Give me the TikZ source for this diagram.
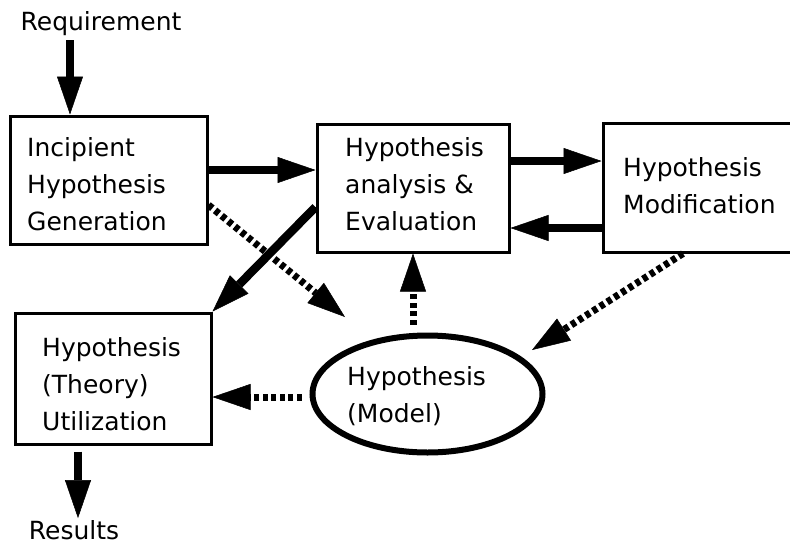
\documentclass[tikz,border=0pt]{standalone}
\usepackage{fontspec}
\setmainfont{DejaVu Sans}
\usetikzlibrary{arrows.meta,calc,shapes.geometric}
\begin{document}
\begin{tikzpicture}[x=1pt,y=-1pt,
  box/.style={draw, line width=3pt, inner sep=0pt},
  txt/.style={font=\fontsize{25}{37}\selectfont, align=left, inner sep=0pt, anchor=west},
  tip/.style={-{Triangle[length=38pt,width=26pt,line width=0.5pt]}},
  sarrow/.style={line width=8.5pt, tip},
  darrow/.style={line width=7pt, dash pattern=on 5pt off 3.5pt, tip}]
\useasboundingbox (0,0) rectangle (790,544);
% boxes
\node[box, minimum width=197pt, minimum height=128pt] (inc) at (108.5,180) {};
\node[box, minimum width=192pt, minimum height=128pt] (ana) at (413,188) {};
\node[box, minimum width=192pt, minimum height=129pt] (mod) at (699,187.5) {};
\node[box, minimum width=196pt, minimum height=131pt] (uti) at (113,378.5) {};
\node[draw, ellipse, line width=6pt, minimum width=230pt, minimum height=117pt, inner sep=0pt] (ell) at (427.5,394) {};
% texts
\node[txt] (incT) at (27,184) {Incipient\\Hypothesis\\Generation};
\node[txt] (anaT) at (345,184) {Hypothesis\\analysis \&\\Evaluation};
\node[txt] (modT) at (623,186) {Hypothesis\\Modification};
\node[txt] (utiT) at (42,384) {Hypothesis\\(Theory)\\Utilization};
\node[txt] (ellT) at (347,396) {Hypothesis\\(Model)};
\node[font=\fontsize{25}{30}\selectfont, inner sep=0pt] (req) at (101,24) {Requirement};
\node[font=\fontsize{25}{30}\selectfont, inner sep=0pt] (res) at (74,530) {Results};
% solid arrows
\draw[sarrow] ([xshift=-31pt,yshift=-4pt]req.south) -- ([xshift=-38.5pt]inc.north);
\draw[sarrow] ([yshift=10pt]inc.east) -- ([yshift=18pt]ana.west);
\draw[sarrow] ([yshift=27pt]ana.east) -- ([yshift=26.5pt]mod.west);
\draw[sarrow] ([yshift=-40.5pt]mod.west) -- ([yshift=-40pt]ana.east);
\draw[sarrow] ([yshift=-19pt]ana.west) -- (uti.north east);
\draw[sarrow] ([xshift=-35pt,yshift=-6pt]uti.south) -- ([xshift=4pt,yshift=2pt]res.north);
% dotted arrows
\draw[darrow] ([yshift=-25pt]inc.east) -- ($(ell.center)+(-82.5,-77)$);
\draw[darrow] ($(ana.south |- ell.north)+(0,-8)$) -- (ana.south);
\draw[darrow] ([xshift=-16pt]mod.south) -- ($(ell.center)+(104.5,-44)$);
\draw[darrow] ([xshift=-8pt,yshift=-3pt]ell.west) -- ([yshift=-18.5pt]uti.east);
\end{tikzpicture}
\end{document}
